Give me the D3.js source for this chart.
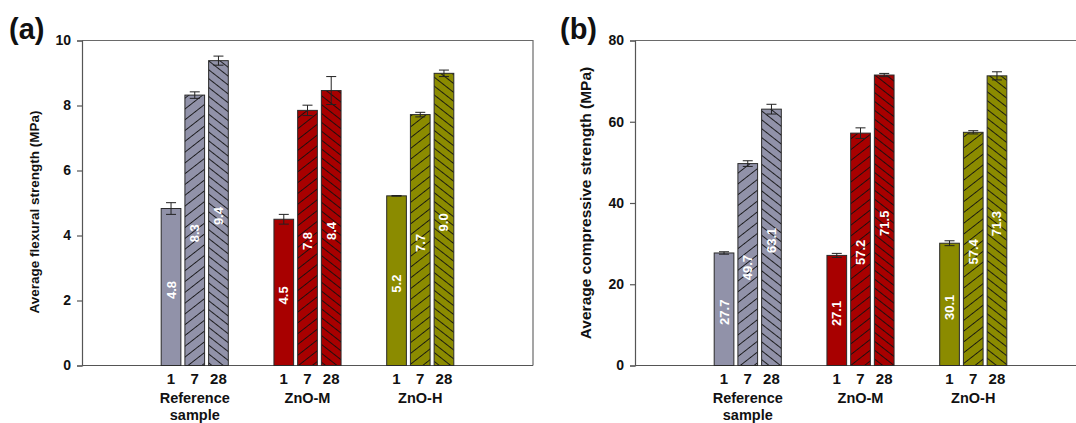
<!DOCTYPE html>
<html><head><meta charset="utf-8">
<script src="https://cdn.jsdelivr.net/npm/d3@7"></script>
<style>
html,body{margin:0;padding:0;background:#fff;}
svg{display:block;font-family:Arial,"Liberation Sans",sans-serif;}
</style></head>
<body>
<svg id="chart" width="1076" height="423"></svg>
<script>
// ---- data ----
const groups = ["Reference sample", "ZnO-M", "ZnO-H"];
const days = ["1", "7", "28"];
const flexural = [[4.83, 8.32, 9.38], [4.50, 7.85, 8.46], [5.22, 7.72, 8.99]];
const flexuralErr = [[0.18, 0.10, 0.14], [0.15, 0.16, 0.43], [0.01, 0.07, 0.10]];
const flexuralLabels = [["4.8", "8.3", "9.4"], ["4.5", "7.8", "8.4"], ["5.2", "7.7", "9.0"]];
const compressive = [[27.7, 49.7, 63.1], [27.1, 57.2, 71.5], [30.1, 57.4, 71.3]];
const compressiveErr = [[0.3, 0.7, 1.2], [0.5, 1.3, 0.4], [0.6, 0.4, 1.0]];
const compressiveLabels = [["27.7", "49.7", "63.1"], ["27.1", "57.2", "71.5"], ["30.1", "57.4", "71.3"]];
const flexTicks = [0, 2, 4, 6, 8, 10];
const compTicks = [0, 20, 40, 60, 80];
const groupColors = ["#9192a9", "#a80000", "#8b8b00"];

const svg = d3.select("#chart");
const defs = svg.append("defs");

// hatch patterns: per group colour, "/" for day 7, "\" for day 28
const hatch = [null, {angle: -38, gap: 8.5}, {angle: 38, gap: 7}];
groupColors.forEach((c, gi) => {
  hatch.forEach((h, di) => {
    if (!h) return;
    const p = defs.append("pattern")
      .attr("id", `h${gi}${di}`)
      .attr("patternUnits", "userSpaceOnUse")
      .attr("width", 20).attr("height", h.gap)
      .attr("patternTransform", `rotate(${h.angle})`);
    p.append("rect").attr("width", 20).attr("height", h.gap).attr("fill", c);
    p.append("line").attr("x1", 0).attr("x2", 20).attr("y1", h.gap / 2).attr("y2", h.gap / 2)
      .attr("stroke", "#111").attr("stroke-width", 0.9);
  });
});

function panel(opts) {
  const {left, tag, tagX, ylabel, ylabelX, ylabelY, ylabelSize, ymax, ticks, vals, errs, labels} = opts;
  const top = 40.5, bottom = 365.5, width = 451;
  const g = svg.append("g");
  const x = d3.scaleLinear().domain([0, 4]).range([left, left + width]);
  const y = d3.scaleLinear().domain([0, ymax]).range([bottom, top]);
  const inner = d3.scaleBand().domain(days).range([-34.5, 34.5]).paddingInner(0.17).paddingOuter(0.04);

  // frame (top/right)
  g.append("path")
    .attr("d", `M${left},${top}H${left + width}V${bottom}`)
    .attr("fill", "none").attr("stroke", "#6a6a6a").attr("stroke-width", 1.2);

  // y axis
  const ya = g.append("g").attr("transform", `translate(${left},0)`)
    .call(d3.axisLeft(y).tickValues(ticks).tickSize(5).tickPadding(6).tickFormat(d3.format("d")));
  ya.select(".domain").attr("stroke", "#555").attr("stroke-width", 1.2);
  ya.selectAll(".tick line").attr("stroke", "#555").attr("stroke-width", 1.2);
  ya.selectAll("text").attr("font-size", 14).attr("font-weight", "bold").attr("fill", "#111")
    .attr("font-family", "Arial, 'Liberation Sans', sans-serif");

  // x axis line
  g.append("line").attr("x1", left).attr("x2", left + width).attr("y1", bottom).attr("y2", bottom)
    .attr("stroke", "#555").attr("stroke-width", 1.2);

  groups.forEach((gn, gi) => {
    const cx = x(gi + 1);
    days.forEach((d, di) => {
      const v = vals[gi][di], e = errs[gi][di];
      const bx = cx + inner(d), bw = inner.bandwidth();
      g.append("rect")
        .attr("x", bx).attr("y", y(v)).attr("width", bw).attr("height", y(0) - y(v))
        .attr("fill", di === 0 ? groupColors[gi] : `url(#h${gi}${di})`)
        .attr("stroke", "#2a2a2a").attr("stroke-width", 1);
      // error bar
      const ex = bx + bw / 2, cap = 5;
      const eb = g.append("g").attr("stroke", "#222").attr("stroke-width", 1);
      eb.append("line").attr("x1", ex).attr("x2", ex).attr("y1", y(v + e)).attr("y2", y(v - e));
      eb.append("line").attr("x1", ex - cap).attr("x2", ex + cap).attr("y1", y(v + e)).attr("y2", y(v + e));
      eb.append("line").attr("x1", ex - cap).attr("x2", ex + cap).attr("y1", y(v - e)).attr("y2", y(v - e));
      // value label
      const my = (y(v) + y(0)) / 2 + 3;
      g.append("text")
        .attr("transform", `translate(${ex + 4.5},${my}) rotate(-90)`)
        .attr("text-anchor", "middle")
        .attr("font-size", 13).attr("font-weight", "bold").attr("fill", "#fff")
        .text(labels[gi][di]);
      // day tick label
      g.append("text").attr("x", ex).attr("y", 384).attr("text-anchor", "middle")
        .attr("font-size", 15).attr("font-weight", "bold").attr("fill", "#111").text(d);
    });
    const words = gn === "Reference sample" ? ["Reference", "sample"] : [gn];
    words.forEach((w, wi) => {
      g.append("text").attr("x", cx).attr("y", 403 + wi * 17).attr("text-anchor", "middle")
        .attr("font-size", 14.5).attr("font-weight", "bold").attr("fill", "#111").text(w);
    });
  });

  // y label
  g.append("text")
    .attr("transform", `translate(${ylabelX},${ylabelY}) rotate(-90)`)
    .attr("text-anchor", "middle")
    .attr("font-size", ylabelSize).attr("font-weight", "bold").attr("fill", "#111")
    .text(ylabel);

  // panel tag
  g.append("text").attr("x", tagX).attr("y", 39)
    .attr("font-size", 29).attr("font-weight", "bold").attr("fill", "#111").text(tag);
}

panel({left: 82, tag: "(a)", tagX: 9, ylabel: "Average flexural strength (MPa)", ylabelX: 39, ylabelY: 212, ylabelSize: 13.5,
  ymax: 10, ticks: flexTicks, vals: flexural, errs: flexuralErr, labels: flexuralLabels});
panel({left: 635, tag: "(b)", tagX: 560, ylabel: "Average compressive strength (MPa)", ylabelX: 591, ylabelY: 203, ylabelSize: 15.5,
  ymax: 80, ticks: compTicks, vals: compressive, errs: compressiveErr, labels: compressiveLabels});
</script>
</body></html>
